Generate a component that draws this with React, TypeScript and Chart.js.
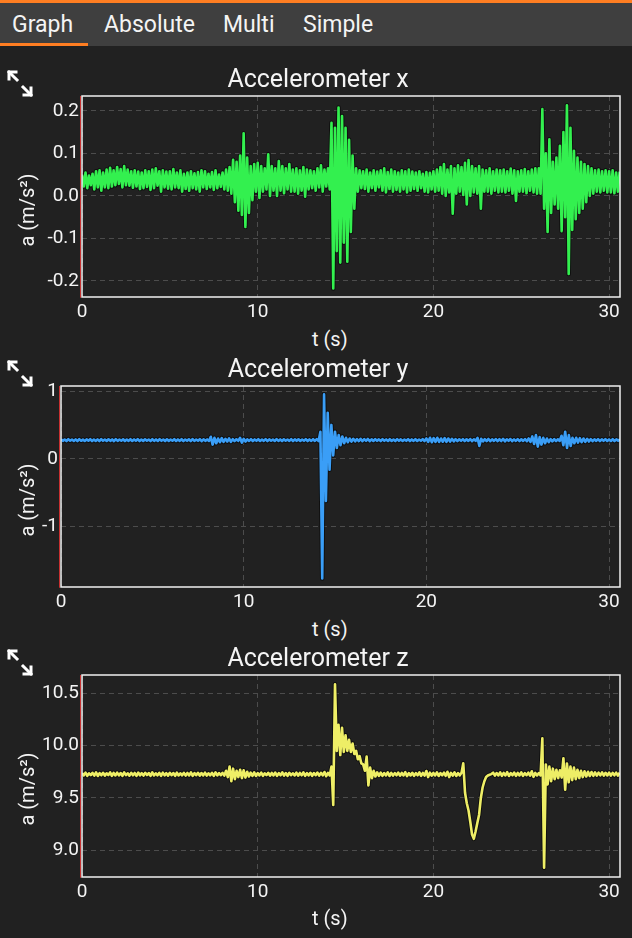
import React, { useEffect, useRef } from 'react';
import { Chart, registerables } from 'chart.js';

Chart.register(...registerables);

// ---------- data ----------
// One sample every 0.1 s, t = 0.0 … 30.6 s (one line = one second)
const SAMPLE_INTERVAL = 0.1;

const tabLabels = ['Graph', 'Absolute', 'Multi', 'Simple'];
const panelTitles = ['Accelerometer x', 'Accelerometer y', 'Accelerometer z'];
const xAxisTitle = 't (s)';
const yAxisTitle = 'a (m/s²)';

const xTickValues = [0, 10, 20, 30];
const xTickLabels = ['0', '10', '20', '30'];
const yTicksAccX = [-0.2, -0.1, 0, 0.1, 0.2];
const yTickLabelsAccX = ['-0.2', '-0.1', '0.0', '0.1', '0.2'];
const yTicksAccY = [-1, 0, 1];
const yTickLabelsAccY = ['-1', '0', '1'];
const yTicksAccZ = [9.0, 9.5, 10.0, 10.5];
const yTickLabelsAccZ = ['9.0', '9.5', '10.0', '10.5'];

const accX = [
  0.050, 0.022, 0.055, 0.018, 0.048, 0.025, 0.052, 0.015, 0.058, 0.020,
  0.060, 0.012, 0.055, 0.020, 0.062, 0.018, 0.066, 0.022, 0.060, 0.025,
  0.068, 0.028, 0.063, 0.020, 0.070, 0.025, 0.062, 0.024, 0.058, 0.019,
  0.060, 0.022, 0.057, 0.016, 0.055, 0.018, 0.060, 0.021, 0.058, 0.014,
  0.062, 0.018, 0.065, 0.024, 0.058, 0.010, 0.060, 0.020, 0.057, 0.017,
  0.058, 0.015, 0.063, 0.020, 0.055, 0.018, 0.060, 0.010, 0.052, 0.016,
  0.055, 0.012, 0.058, 0.018, 0.053, 0.015, 0.056, 0.010, 0.060, 0.020,
  0.058, 0.016, 0.052, 0.020, 0.056, 0.014, 0.060, 0.018, 0.050, 0.021,
  0.055, 0.015, 0.062, 0.012, 0.068, 0.005, 0.085, -0.015, 0.080, -0.035,
  0.095, -0.045, 0.147, -0.073, 0.090, -0.040, 0.070, -0.010, 0.075, 0.010,
  0.078, -0.005, 0.070, 0.010, 0.065, 0.015, 0.098, 0.000, 0.070, 0.012,
  0.065, 0.000, 0.082, 0.012, 0.070, 0.006, 0.065, 0.015, 0.075, 0.010,
  0.062, 0.010, 0.065, 0.005, 0.060, 0.012, 0.068, -0.002, 0.062, 0.015,
  0.060, 0.018, 0.058, 0.012, 0.065, 0.020, 0.072, 0.010, 0.062, 0.022,
  0.065, 0.015, 0.172, -0.218, 0.160, -0.130, 0.208, -0.157, 0.188, -0.110,
  0.160, -0.155, 0.132, -0.085, 0.095, -0.030, 0.065, 0.010, 0.060, 0.018,
  0.058, 0.016, 0.062, 0.010, 0.055, 0.018, 0.060, 0.012, 0.057, 0.020,
  0.060, 0.012, 0.065, 0.008, 0.056, 0.016, 0.062, 0.010, 0.058, 0.014,
  0.055, 0.010, 0.060, 0.015, 0.058, 0.008, 0.062, 0.012, 0.057, 0.016,
  0.055, 0.012, 0.058, 0.018, 0.052, 0.010, 0.056, 0.008, 0.054, 0.015,
  0.058, 0.010, 0.062, 0.012, 0.068, 0.005, 0.075, 0.000, 0.062, 0.008,
  0.070, -0.042, 0.065, 0.005, 0.072, 0.010, 0.068, 0.002, 0.078, -0.020,
  0.084, 0.000, 0.070, 0.008, 0.065, 0.005, 0.070, -0.030, 0.062, 0.010,
  0.060, 0.010, 0.065, 0.005, 0.058, 0.012, 0.062, 0.008, 0.060, 0.010,
  0.062, 0.008, 0.058, 0.012, 0.064, 0.005, 0.060, -0.012, 0.058, 0.010,
  0.060, 0.010, 0.063, 0.006, 0.058, 0.012, 0.062, 0.008, 0.065, 0.005,
  0.065, 0.005, 0.204, -0.030, 0.100, -0.085, 0.133, -0.040, 0.080, -0.020,
  0.090, -0.030, 0.118, -0.083, 0.150, -0.050, 0.213, -0.184, 0.160, -0.080,
  0.106, -0.055, 0.090, -0.040, 0.080, -0.030, 0.075, -0.015, 0.070, 0.000,
  0.065, 0.005, 0.060, 0.010, 0.062, 0.008, 0.058, 0.012, 0.060, 0.008,
  0.058, 0.008, 0.060, 0.006, 0.055, 0.010, 0.057,
];

const accY = [
  0.288, 0.265, 0.285, 0.262, 0.290, 0.268, 0.284, 0.264, 0.287, 0.260,
  0.289, 0.266, 0.283, 0.263, 0.286, 0.267, 0.290, 0.261, 0.285, 0.264,
  0.287, 0.262, 0.291, 0.266, 0.284, 0.263, 0.288, 0.265, 0.286, 0.260,
  0.290, 0.264, 0.285, 0.267, 0.288, 0.262, 0.284, 0.265, 0.289, 0.263,
  0.286, 0.266, 0.290, 0.261, 0.285, 0.264, 0.288, 0.267, 0.284, 0.262,
  0.289, 0.265, 0.286, 0.263, 0.291, 0.266, 0.285, 0.262, 0.288, 0.264,
  0.284, 0.267, 0.290, 0.263, 0.286, 0.265, 0.289, 0.261, 0.285, 0.266,
  0.288, 0.262, 0.292, 0.264, 0.285, 0.266, 0.290, 0.260, 0.287, 0.265,
  0.286, 0.264, 0.325, 0.210, 0.310, 0.230, 0.300, 0.245, 0.305, 0.250,
  0.295, 0.255, 0.300, 0.250, 0.290, 0.262, 0.288, 0.265, 0.310, 0.240,
  0.295, 0.255, 0.287, 0.264, 0.290, 0.262, 0.286, 0.266, 0.289, 0.263,
  0.285, 0.265, 0.290, 0.261, 0.287, 0.266, 0.284, 0.263, 0.291, 0.264,
  0.286, 0.262, 0.289, 0.267, 0.285, 0.264, 0.290, 0.262, 0.287, 0.265,
  0.288, 0.263, 0.284, 0.266, 0.290, 0.262, 0.286, 0.265, 0.289, 0.264,
  0.290, 0.262, 0.400, -1.764, 0.950, -0.620, 0.680, -0.160, 0.500, 0.050,
  0.400, 0.160, 0.350, 0.200, 0.330, 0.230, 0.310, 0.245, 0.300, 0.255,
  0.296, 0.258, 0.292, 0.262, 0.295, 0.260, 0.290, 0.264, 0.293, 0.261,
  0.288, 0.263, 0.291, 0.265, 0.287, 0.262, 0.290, 0.266, 0.286, 0.263,
  0.289, 0.264, 0.285, 0.262, 0.290, 0.265, 0.287, 0.263, 0.284, 0.266,
  0.290, 0.262, 0.286, 0.265, 0.289, 0.263, 0.285, 0.266, 0.291, 0.262,
  0.300, 0.250, 0.310, 0.245, 0.305, 0.250, 0.310, 0.248, 0.300, 0.252,
  0.305, 0.250, 0.300, 0.255, 0.295, 0.258, 0.290, 0.262, 0.288, 0.265,
  0.290, 0.262, 0.288, 0.264, 0.292, 0.260, 0.288, 0.265, 0.310, 0.190,
  0.295, 0.258, 0.290, 0.262, 0.293, 0.260, 0.288, 0.264, 0.292, 0.261,
  0.289, 0.263, 0.294, 0.258, 0.288, 0.265, 0.292, 0.260, 0.287, 0.264,
  0.290, 0.262, 0.288, 0.264, 0.292, 0.260, 0.300, 0.250, 0.330, 0.220,
  0.350, 0.180, 0.320, 0.210, 0.310, 0.230, 0.300, 0.245, 0.292, 0.258,
  0.290, 0.262, 0.288, 0.264, 0.340, 0.200, 0.400, 0.160, 0.350, 0.190,
  0.310, 0.230, 0.310, 0.240, 0.305, 0.245, 0.300, 0.250, 0.295, 0.255,
  0.290, 0.260, 0.288, 0.264, 0.291, 0.262, 0.287, 0.265, 0.290, 0.263,
  0.286, 0.264, 0.289, 0.262, 0.287, 0.265, 0.288,
];

const accZ = [
  9.738, 9.716, 9.742, 9.712, 9.735, 9.718, 9.740, 9.714, 9.745, 9.710,
  9.737, 9.717, 9.741, 9.713, 9.736, 9.719, 9.744, 9.711, 9.739, 9.715,
  9.742, 9.716, 9.738, 9.712, 9.745, 9.718, 9.736, 9.713, 9.740, 9.717,
  9.739, 9.711, 9.743, 9.716, 9.737, 9.714, 9.741, 9.719, 9.738, 9.712,
  9.744, 9.715, 9.736, 9.717, 9.740, 9.711, 9.742, 9.716, 9.737, 9.713,
  9.741, 9.718, 9.738, 9.712, 9.743, 9.715, 9.736, 9.717, 9.740, 9.714,
  9.739, 9.716, 9.744, 9.711, 9.737, 9.718, 9.741, 9.713, 9.738, 9.716,
  9.742, 9.714, 9.736, 9.717, 9.740, 9.712, 9.745, 9.715, 9.738, 9.718,
  9.740, 9.714, 9.760, 9.700, 9.800, 9.660, 9.780, 9.680, 9.760, 9.700,
  9.770, 9.690, 9.765, 9.695, 9.750, 9.705, 9.742, 9.712, 9.745, 9.710,
  9.738, 9.716, 9.742, 9.712, 9.736, 9.718, 9.741, 9.713, 9.739, 9.716,
  9.743, 9.711, 9.737, 9.717, 9.745, 9.714, 9.738, 9.712, 9.741, 9.718,
  9.736, 9.715, 9.742, 9.713, 9.739, 9.717, 9.744, 9.711, 9.737, 9.716,
  9.741, 9.712, 9.738, 9.718, 9.743, 9.714, 9.740, 9.716, 9.748, 9.708,
  9.740, 9.715, 9.800, 9.433, 10.587, 9.950, 10.200, 9.910, 10.170, 9.940,
  10.100, 9.950, 10.055, 9.940, 10.020, 9.920, 9.950, 9.870, 9.900, 9.830,
  9.820, 9.760, 9.895, 9.620, 9.790, 9.690, 9.760, 9.705, 9.745, 9.712,
  9.742, 9.712, 9.738, 9.716, 9.745, 9.710, 9.740, 9.714, 9.737, 9.717,
  9.743, 9.713, 9.739, 9.716, 9.746, 9.709, 9.738, 9.715, 9.741, 9.712,
  9.737, 9.717, 9.744, 9.711, 9.740, 9.714, 9.758, 9.700, 9.742, 9.713,
  9.739, 9.716, 9.745, 9.710, 9.738, 9.717, 9.742, 9.712, 9.750, 9.700,
  9.740, 9.714, 9.745, 9.710, 9.738, 9.716, 9.740, 9.832, 9.550, 9.450,
  9.380, 9.270, 9.150, 9.110, 9.180, 9.260, 9.340, 9.500, 9.600, 9.660,
  9.700, 9.715, 9.722, 9.728, 9.742, 9.714, 9.738, 9.716, 9.744, 9.712,
  9.740, 9.715, 9.746, 9.710, 9.738, 9.717, 9.743, 9.712, 9.739, 9.716,
  9.744, 9.711, 9.737, 9.718, 9.742, 9.713, 9.755, 9.702, 9.740, 9.715,
  9.738, 9.716, 10.070, 8.833, 9.820, 9.630, 9.800, 9.660, 9.780, 9.680,
  9.770, 9.690, 9.765, 9.695, 9.880, 9.580, 9.830, 9.650, 9.800, 9.670,
  9.790, 9.680, 9.770, 9.690, 9.760, 9.700, 9.755, 9.705, 9.750, 9.710,
  9.748, 9.712, 9.745, 9.714, 9.742, 9.716, 9.744, 9.713, 9.741, 9.715,
  9.743, 9.714, 9.740, 9.716, 9.742, 9.713, 9.741,
];

// ---------- styling / layout ----------
const FONT = 'Roboto, "Noto Sans", sans-serif';
const BG = '#212121';
const TAB_BG = '#3f3f3f';
const ORANGE = '#ff7e22';
const GRID = '#4c4c4c';
const TEXT = '#f4f4f4';
const PAD_TOP = 20;
const XAXIS_H = 30;
const PLOT_RIGHT = 620;
const W = 632;

type PanelSpec = {
  title: string;
  values: number[];
  color: string;
  plotLeft: number;
  plotTop: number;
  plotH: number;
  xMax: number;
  yMin: number;
  yMax: number;
  yTicks: number[];
  yTickLabels: string[];
};

const panels: PanelSpec[] = [
  { title: panelTitles[0], values: accX, color: '#33f04f', plotLeft: 82, plotTop: 96, plotH: 201, xMax: 30.62, yMin: -0.238, yMax: 0.235, yTicks: yTicksAccX, yTickLabels: yTickLabelsAccX },
  { title: panelTitles[1], values: accY, color: '#3a9ef7', plotLeft: 61, plotTop: 386, plotH: 201, xMax: 30.6, yMin: -1.89, yMax: 1.074, yTicks: yTicksAccY, yTickLabels: yTickLabelsAccY },
  { title: panelTitles[2], values: accZ, color: '#eeee66', plotLeft: 82, plotTop: 675, plotH: 202, xMax: 30.62, yMin: 8.745, yMax: 10.675, yTicks: yTicksAccZ, yTickLabels: yTickLabelsAccZ },
];

const framePlugin = {
  id: 'frame',
  afterDraw(chart: any) {
    const { ctx, chartArea: a } = chart;
    ctx.save();
    ctx.strokeStyle = '#f0f0f0';
    ctx.lineWidth = 1.5;
    ctx.strokeRect(a.left, a.top, a.right - a.left, a.bottom - a.top);
    ctx.strokeStyle = '#c83030';
    ctx.lineWidth = 1;
    ctx.beginPath();
    ctx.moveTo(a.left - 1.5, a.top);
    ctx.lineTo(a.left - 1.5, a.bottom + 0.75);
    ctx.stroke();
    ctx.restore();
  },
};

// top of a text line box so that its baseline lands on `baseline` (Roboto metrics)
const lineTop = (baseline: number, fs: number, lh: number) =>
  baseline - ((lh - 1.172 * fs) / 2 + 0.928 * fs);

function Panel({ spec }: { spec: PanelSpec }) {
  const ref = useRef<HTMLCanvasElement>(null);
  const canvasH = PAD_TOP + spec.plotH + XAXIS_H;

  useEffect(() => {
    const canvas = ref.current!;
    const points = spec.values.map((v, i) => ({ x: i * SAMPLE_INTERVAL, y: v }));
    const tickFont = { family: FONT, size: 19 };
    const chart = new Chart(canvas, {
      type: 'line',
      data: {
        datasets: [
          {
            data: points,
            borderColor: spec.color,
            borderWidth: 2.6,
            borderJoinStyle: 'round',
            pointRadius: 0,
            tension: 0,
            fill: false,
            order: 0,
          },
          {
            data: points,
            borderColor: 'rgba(0,0,0,0.55)',
            borderWidth: 4.5,
            borderJoinStyle: 'round',
            pointRadius: 0,
            tension: 0,
            fill: false,
            order: 1,
          },
        ],
      },
      options: {
        responsive: false,
        animation: false,
        devicePixelRatio: 1,
        parsing: false,
        normalized: true,
        events: [],
        layout: { padding: { left: 0, right: W - PLOT_RIGHT, top: PAD_TOP, bottom: 0 } },
        plugins: {
          legend: { display: false },
          tooltip: { enabled: false },
          title: { display: false },
        },
        scales: {
          x: {
            type: 'linear',
            min: 0,
            max: spec.xMax,
            afterFit: (s: any) => {
              s.height = XAXIS_H;
            },
            afterBuildTicks: (s: any) => {
              s.ticks = xTickValues.map((v) => ({ value: v }));
            },
            ticks: {
              color: TEXT,
              font: tickFont,
              padding: 4,
              maxRotation: 0,
              autoSkip: false,
              callback: (_v: any, i: number) => xTickLabels[i],
            },
            grid: { color: GRID, lineWidth: 1, drawTicks: false },
            border: { display: false, dash: [5, 4] },
          },
          y: {
            type: 'linear',
            min: spec.yMin,
            max: spec.yMax,
            afterFit: (s: any) => {
              s.width = spec.plotLeft;
            },
            afterBuildTicks: (s: any) => {
              s.ticks = spec.yTicks.map((v) => ({ value: v }));
            },
            ticks: {
              color: TEXT,
              font: tickFont,
              padding: 3,
              autoSkip: false,
              callback: (_v: any, i: number) => spec.yTickLabels[i],
            },
            grid: { color: GRID, lineWidth: 1, drawTicks: false },
            border: { display: false, dash: [5, 4] },
          },
        },
      },
      plugins: [framePlugin],
    } as any);
    return () => chart.destroy();
  }, []);

  const t = spec.plotTop;
  return (
    <>
      <canvas
        ref={ref}
        width={W}
        height={canvasH}
        style={{ position: 'absolute', left: 0, top: t - PAD_TOP, width: W, height: canvasH }}
      />
      <svg
        width={28}
        height={29}
        style={{ position: 'absolute', left: 6, top: t - 27 }}
        viewBox="0 0 28 29"
      >
        <g stroke="#ffffff" strokeWidth={3} fill="none" strokeLinecap="square">
          <path d="M3 3 L11 11" />
          <path d="M3 10 L3 3 L10 3" />
          <path d="M17 18 L25 26" />
          <path d="M25 19 L25 26 L18 26" />
        </g>
      </svg>
      <div
        style={{
          position: 'absolute',
          left: 0,
          width: 636,
          top: lineTop(t - 8.5, 25, 30),
          height: 30,
          lineHeight: '30px',
          fontSize: 25,
          fontFamily: FONT,
          color: TEXT,
          textAlign: 'center',
          whiteSpace: 'nowrap',
        }}
      >
        {spec.title}
      </div>
      <div
        style={{
          position: 'absolute',
          left: 312,
          top: lineTop(t + 250, 20, 24),
          height: 24,
          lineHeight: '24px',
          fontSize: 20,
          fontFamily: FONT,
          color: TEXT,
          whiteSpace: 'nowrap',
        }}
      >
        {xAxisTitle}
      </div>
      <div
        style={{
          position: 'absolute',
          left: 27 - 60,
          top: t + 114 - 12,
          width: 120,
          height: 24,
          lineHeight: '24px',
          fontSize: 20,
          fontFamily: FONT,
          color: TEXT,
          textAlign: 'center',
          whiteSpace: 'nowrap',
          transform: 'rotate(-90deg)',
        }}
      >
        {yAxisTitle}
      </div>
    </>
  );
}

export default function App() {
  const tabLefts = [12, 104, 223, 303];
  return (
    <div
      style={{
        position: 'absolute',
        left: 0,
        top: 0,
        width: W,
        height: 938,
        background: BG,
        overflow: 'hidden',
        fontFamily: FONT,
      }}
    >
      <div style={{ position: 'absolute', left: 0, top: 0, width: W, height: 3, background: ORANGE }} />
      <div style={{ position: 'absolute', left: 0, top: 3, width: W, height: 43, background: TAB_BG }} />
      {tabLabels.map((label, i) => (
        <div
          key={label}
          style={{
            position: 'absolute',
            left: tabLefts[i],
            top: 3,
            height: 43,
            lineHeight: '43px',
            fontSize: 23,
            color: TEXT,
            whiteSpace: 'nowrap',
          }}
        >
          {label}
        </div>
      ))}
      <div style={{ position: 'absolute', left: 0, top: 43, width: 88, height: 3, background: ORANGE }} />
      {panels.map((p) => (
        <Panel key={p.title} spec={p} />
      ))}
    </div>
  );
}
